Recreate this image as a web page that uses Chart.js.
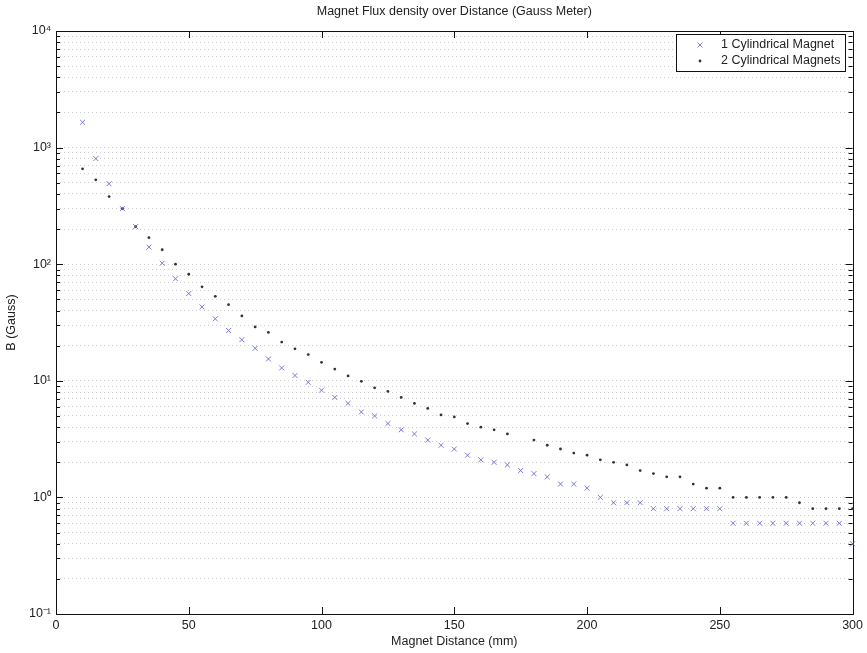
<!DOCTYPE html>
<html>
<head>
<meta charset="utf-8">
<title>Magnet Flux density over Distance</title>
<script src="https://cdn.jsdelivr.net/npm/chart.js@4.4.1/dist/chart.umd.min.js"></script>
<style>
    html, body { margin: 0; padding: 0; background: #fff; }
</style>
</head>
<body>
<canvas id="myChart" width="867" height="653"></canvas>
<script>
// distance in mm, one reading every 5 mm
var distance = [10, 15, 20, 25, 30, 35, 40, 45, 50,
    55, 60, 65, 70, 75, 80, 85, 90, 95, 100,
    105, 110, 115, 120, 125, 130, 135, 140, 145, 150,
    155, 160, 165, 170, 175, 180, 185, 190, 195, 200,
    205, 210, 215, 220, 225, 230, 235, 240, 245, 250,
    255, 260, 265, 270, 275, 280, 285, 290, 295, 300]

// B in Gauss
var oneMagnet = [1650, 805, 490, 300, 210, 140, 102, 75, 56,
    43, 34, 27, 22.5, 19, 15.4, 12.9, 11.1, 9.7, 8.3,
    7.2, 6.4, 5.4, 5.0, 4.3, 3.8, 3.5, 3.1, 2.8, 2.6,
    2.3, 2.1, 2.0, 1.9, 1.7, 1.6, 1.5, 1.3, 1.3, 1.2,
    1.0, 0.9, 0.9, 0.9, 0.8, 0.8, 0.8, 0.8, 0.8, 0.8,
    0.6, 0.6, 0.6, 0.6, 0.6, 0.6, 0.6, 0.6, 0.6, 0.4]

var twoMagnets = [657, 529, 380, 300, 210, 169, 133, 100, 82,
    64, 53, 45, 36, 29, 26, 21.5, 18.8, 16.8, 14.4,
    12.6, 11.0, 9.9, 8.7, 8.1, 7.2, 6.4, 5.8, 5.1, 4.9,
    4.3, 4.0, 3.8, 3.5, null, 3.1, 2.8, 2.6, 2.4, 2.3,
    2.1, 2.0, 1.9, 1.7, 1.6, 1.5, 1.5, 1.3, 1.2, 1.2,
    1.0, 1.0, 1.0, 1.0, 1.0, 0.9, 0.8, 0.8, 0.8, 0.8]

var seriesNames = ['1 Cylindrical Magnet', '2 Cylindrical Magnets']

var xTicks = [0, 50, 100, 150, 200, 250, 300]
var yDecades = [0.1, 1, 10, 100, 1000, 10000]
var yTickLabels = ['10\u207B\u00B9', '10\u2070', '10\u00B9', '10\u00B2', '10\u00B3', '10\u2074']

var FONT = "'Liberation Sans', Arial, sans-serif"
var FSIZE = 12.5
var TXT = '#222'

function toPoints(ys) {
    var pts = []
    for (var i = 0; i < distance.length; i++) {
        if (ys[i] != null) pts.push({x: distance[i], y: ys[i]})
    }
    return pts
}

// matlab style box with ticks pointing into the plot
var boxTicks = {
    id: 'boxTicks',
    beforeDatasetsDraw: function (chart) {
        var ctx = chart.ctx
        var a = chart.chartArea
        var xs = chart.scales.x
        var ys = chart.scales.y
        ctx.save()
        ctx.strokeStyle = '#111'
        ctx.lineWidth = 1
        ctx.strokeRect(Math.round(a.left) + 0.5, Math.round(a.top) + 0.5,
            Math.round(a.right - a.left), Math.round(a.bottom - a.top))
        ctx.beginPath()
        ys.ticks.forEach(function (t) {
            var py = Math.round(ys.getPixelForValue(t.value)) + 0.5
            var len = yDecades.indexOf(t.value) >= 0 ? 7 : 4
            ctx.moveTo(a.left, py); ctx.lineTo(a.left + len, py)
            ctx.moveTo(a.right, py); ctx.lineTo(a.right - len, py)
        })
        xTicks.forEach(function (v) {
            var px = Math.round(xs.getPixelForValue(v)) + 0.5
            ctx.moveTo(px, a.bottom); ctx.lineTo(px, a.bottom - 7)
            ctx.moveTo(px, a.top); ctx.lineTo(px, a.top + 7)
        })
        ctx.stroke()
        ctx.restore()
    }
}

// legend box in the top right corner of the axes
var boxLegend = {
    id: 'boxLegend',
    afterDraw: function (chart) {
        var ctx = chart.ctx
        var a = chart.chartArea
        ctx.save()
        ctx.font = FSIZE + 'px ' + FONT
        var w = 0
        chart.data.datasets.forEach(function (ds) {
            w = Math.max(w, ctx.measureText(ds.label).width)
        })
        var bw = Math.round(w + 50)
        var bh = 37
        var bx = Math.round(a.right - 8 - bw)
        var by = Math.round(a.top + 3)
        ctx.fillStyle = '#fff'
        ctx.fillRect(bx, by, bw, bh)
        ctx.strokeStyle = '#111'
        ctx.lineWidth = 1
        ctx.strokeRect(bx + 0.5, by + 0.5, bw, bh)
        chart.data.datasets.forEach(function (ds, i) {
            var cy = by + 11 + i * 16
            ctx.strokeStyle = ds.borderColor
            ctx.fillStyle = ds.backgroundColor
            ctx.lineWidth = ds.borderWidth
            Chart.helpers.drawPoint(ctx, {pointStyle: ds.pointStyle, radius: ds.pointRadius, borderWidth: ds.borderWidth}, bx + 24, cy)
            ctx.fillStyle = TXT
            ctx.textBaseline = 'middle'
            ctx.fillText(ds.label, bx + 45, cy)
        })
        ctx.restore()
    }
}

var ctx = document.getElementById('myChart')
var myChart = new Chart(ctx, {
    type: 'scatter',
    data: {
        datasets: [{
            label: seriesNames[0],
            data: toPoints(oneMagnet),
            clip: false,
            pointStyle: 'crossRot',
            pointRadius: 3.5,
            borderWidth: 1,
            borderColor: 'rgba(100, 100, 210, 0.85)',
            backgroundColor: 'rgba(100, 100, 210, 0.85)'
        }, {
            label: seriesNames[1],
            data: toPoints(twoMagnets),
            clip: false,
            pointStyle: 'circle',
            pointRadius: 1.4,
            borderWidth: 0,
            borderColor: '#333',
            backgroundColor: '#333'
        }]
    },
    options: {
        responsive: false,
        animation: false,
        devicePixelRatio: 1,
        layout: { padding: { left: 0, right: 14, top: 0, bottom: 0 } },
        plugins: {
            legend: { display: false },
            tooltip: { enabled: false },
            title: {
                display: true,
                fullSize: false,
                text: 'Magnet Flux density over Distance (Gauss Meter)',
                color: TXT,
                font: { family: FONT, size: FSIZE, weight: 'normal' },
                padding: { top: 4, bottom: 12 }
            }
        },
        scales: {
            x: {
                type: 'linear',
                min: 0,
                max: 300,
                afterBuildTicks: function (scale) {
                    scale.ticks = xTicks.map(function (v) { return {value: v} })
                },
                afterFit: function (scale) { scale.height = 39 },
                grid: { display: false, drawTicks: false },
                border: { display: false },
                ticks: {
                    color: TXT,
                    padding: 4,
                    maxRotation: 0,
                    font: { family: FONT, size: FSIZE }
                },
                title: {
                    display: true,
                    text: 'Magnet Distance (mm)',
                    color: TXT,
                    font: { family: FONT, size: FSIZE },
                    padding: { top: 0, bottom: 4 }
                }
            },
            y: {
                type: 'logarithmic',
                min: yDecades[0],
                max: yDecades[yDecades.length - 1],
                afterBuildTicks: function (scale) {
                    var t = []
                    yDecades.forEach(function (d, i) {
                        if (i == yDecades.length - 1) { t.push({value: d}); return }
                        for (var m = 1; m < 10; m++) t.push({value: d * m})
                    })
                    scale.ticks = t
                },
                afterFit: function (scale) { scale.width = 56 },
                grid: {
                    color: 'rgba(0, 0, 0, 0.2)',
                    lineWidth: 1,
                    drawTicks: false
                },
                border: { display: false, dash: [1, 3] },
                ticks: {
                    autoSkip: false,
                    color: TXT,
                    padding: 5,
                    font: { family: FONT, size: FSIZE },
                    callback: function (v) {
                        var i = yDecades.indexOf(v)
                        return i < 0 ? '' : yTickLabels[i]
                    }
                },
                title: {
                    display: true,
                    text: 'B (Gauss)',
                    color: TXT,
                    font: { family: FONT, size: FSIZE },
                    padding: { top: 4, bottom: 0 }
                }
            }
        }
    },
    plugins: [boxTicks, boxLegend]
})
</script>
</body>
</html>
